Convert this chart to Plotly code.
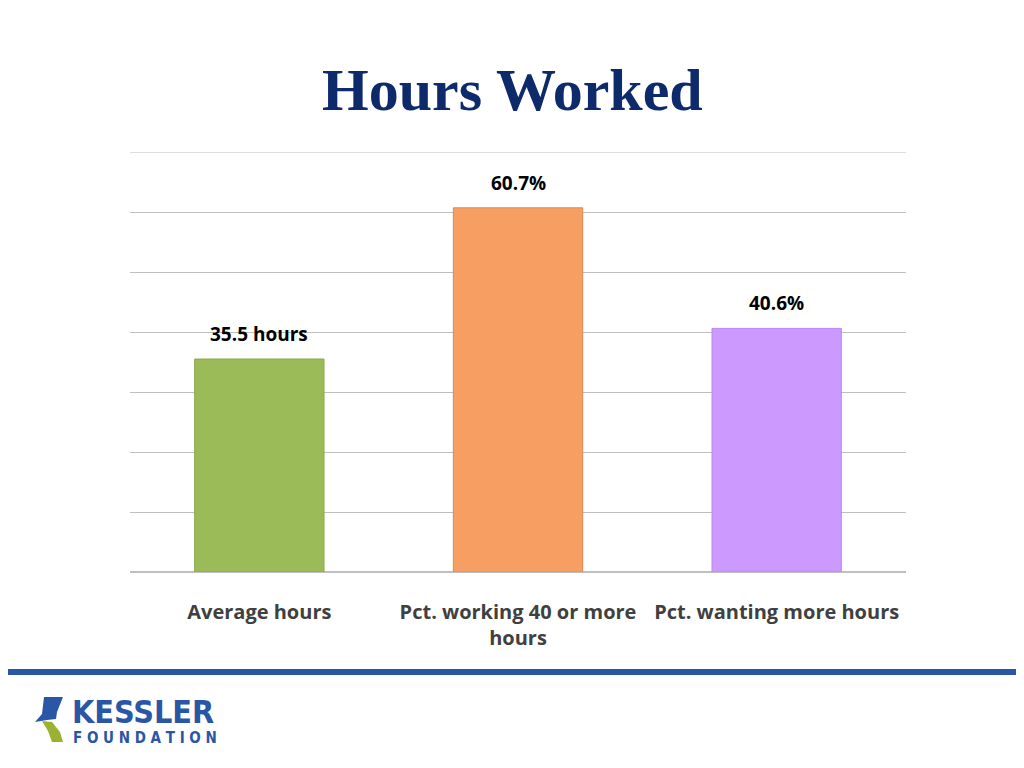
import plotly.graph_objects as go

categories = ["Average hours", "Pct. working 40 or more<br>hours", "Pct. wanting more hours"]
values = [35.5, 60.7, 40.6]
labels = ["35.5 hours", "60.7%", "40.6%"]
colors = ["#9BBB59", "#F79E63", "#CC99FF"]
lines = ["#8AAA4A", "#E08850", "#B888EE"]

OFF = 8
W, H = 1024 - OFF, 768 - OFF
L, R, T, B = 130 - OFF, 906 - OFF, 152 - OFF, 572 - OFF
def px(x): return (x - OFF - L) / (R - L)
def py(y): return (B - (y - OFF)) / (B - T)

fig = go.Figure(go.Bar(
    x=categories, y=values,
    marker=dict(color=colors, line=dict(color=lines, width=1)),
    width=0.5, cliponaxis=False))

shapes = [
    dict(type="line", xref="paper", yref="y", x0=0, x1=1, y0=70, y1=70, line=dict(color="#BFBFBF", width=1)),
    dict(type="rect", xref="paper", yref="paper", x0=px(0), x1=px(1030), y0=py(675), y1=py(669),
         fillcolor="#2A56A6", line=dict(width=0)),
    dict(type="path", xref="paper", yref="paper",
         path=f"M {px(44)},{py(697)} L {px(63)},{py(697)} L {px(57)},{py(712)} L {px(56)},{py(719)} L {px(47)},{py(720)} L {px(35)},{py(722)} L {px(42)},{py(714)} Z",
         fillcolor="#2A56A6", line=dict(width=0)),
    dict(type="path", xref="paper", yref="paper",
         path=f"M {px(42)},{py(721)} L {px(52)},{py(722)} L {px(60)},{py(732)} L {px(63)},{py(742)} L {px(52)},{py(742)} L {px(48)},{py(731)} Z",
         fillcolor="#9BB130", line=dict(width=0)),
]
annotations = [
    dict(text="<b>" + t + "</b>", x=c, y=v, xref="x", yref="y", showarrow=False, yanchor="bottom", yshift=10,
         font=dict(family="Open Sans", size=19, color="#000"))
    for c, v, t in zip(categories, values, labels)
] + [
    dict(text="<b>Hours Worked</b>", xref="paper", yref="paper", x=px(512), y=py(90), showarrow=False,
         font=dict(family="Liberation Serif", size=60, color="#0D2A6B"), xanchor="center", yanchor="middle"),
    dict(text="<b>KESSLER</b>", xref="paper", yref="paper", x=px(70), y=py(712), showarrow=False,
         font=dict(family="DejaVu Sans Condensed", size=32, color="#2A56A6"), xanchor="left", yanchor="middle",
         height=30),
    dict(text="<b>F O U N D A T I O N</b>", xref="paper", yref="paper", x=px(71), y=py(738), showarrow=False,
         font=dict(family="DejaVu Sans Condensed", size=15, color="#2A56A6"), xanchor="left", yanchor="middle",
         height=14),
]

fig.update_layout(
    width=W, height=H, margin=dict(l=L, r=W - R, t=T, b=H - B),
    paper_bgcolor="white", plot_bgcolor="white", showlegend=False,
    shapes=shapes, annotations=annotations,
    yaxis=dict(range=[0, 70], dtick=10, showticklabels=False, gridcolor="#BFBFBF", gridwidth=1,
               zeroline=True, zerolinecolor="#BFBFBF", showline=False),
    xaxis=dict(tickfont=dict(family="Open Sans", size=20, color="#404040"), showline=True,
               linecolor="#BFBFBF", ticks="", ticklen=0, ticklabelstandoff=22,
               tickvals=categories, ticktext=["<b>" + c + "</b>" for c in categories]),
    font=dict(family="Open Sans"),
)
fig.write_html("out.html")
